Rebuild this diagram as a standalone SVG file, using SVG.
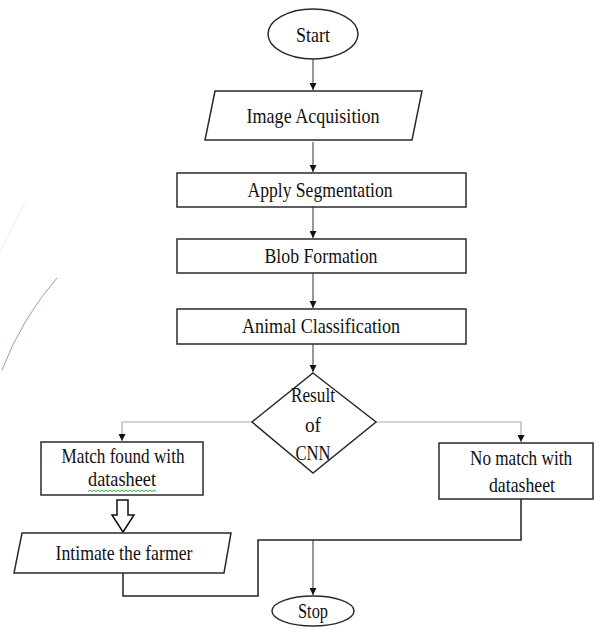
<svg xmlns="http://www.w3.org/2000/svg" width="594" height="629" viewBox="0 0 594 629">
<style>
.shape{fill:#fff;stroke:#2a2a2a;stroke-width:1.5}
.t{font-family:"Liberation Serif","Times New Roman",serif;font-size:22px;fill:#111;text-anchor:middle}
.c{fill:none;stroke:#333;stroke-width:1}
.cl{fill:none;stroke:#aaa;stroke-width:1.2}
.cd{fill:none;stroke:#222;stroke-width:1.5}
</style>
<defs>
<marker id="ah" viewBox="0 0 8 8" refX="8" refY="4" markerWidth="7" markerHeight="7" markerUnits="userSpaceOnUse" orient="auto">
<path d="M0,0 L8,4 L0,8 z" fill="#111"/>
</marker>
</defs>
<rect width="594" height="629" fill="#fff"/>
<path d="M27,200 Q14,224 0,252" fill="none" stroke="#eceeed" stroke-width="1"/>
<path d="M57,278 Q22,318 2,370" fill="none" stroke="#5f7d6d" stroke-width="1" opacity="0.7"/>
<g id="connectors">
<path class="c" d="M313,59 V90" marker-end="url(#ah)"/>
<path class="c" d="M313,142 V172" marker-end="url(#ah)"/>
<path class="c" d="M313,207 V238" marker-end="url(#ah)"/>
<path class="c" d="M313,273 V308" marker-end="url(#ah)"/>
<path class="c" d="M313,344 V372" marker-end="url(#ah)"/>
<path class="cl" d="M252,422 H122 V441" marker-end="url(#ah)"/>
<path class="cl" d="M376,422 H521 V442" marker-end="url(#ah)"/>
<path d="M117,500 H128 V515 H134 L123,532 L112,515 H117 Z" fill="#fff" stroke="#111" stroke-width="1.5"/>
<path class="cd" d="M123,573 V596 H258 V540 H313"/>
<path class="cd" d="M521,499 V540 H313"/>
<path class="c" d="M313,540 V595" marker-end="url(#ah)"/>
</g>
<g id="start">
<ellipse class="shape" cx="313" cy="34" rx="45" ry="25"/>
<text class="t" x="313" y="42" textLength="34" lengthAdjust="spacingAndGlyphs">Start</text>
</g>
<g id="image-acquisition">
<polygon class="shape" points="215,91 422,91 412,140 205,140"/>
<text class="t" x="313" y="123" textLength="133" lengthAdjust="spacingAndGlyphs">Image Acquisition</text>
</g>
<g id="apply-segmentation">
<rect class="shape" x="177" y="173" width="289" height="34"/>
<text class="t" x="320" y="197" textLength="145" lengthAdjust="spacingAndGlyphs">Apply Segmentation</text>
</g>
<g id="blob-formation">
<rect class="shape" x="177" y="239" width="289" height="34"/>
<text class="t" x="321" y="263" textLength="113" lengthAdjust="spacingAndGlyphs">Blob Formation</text>
</g>
<g id="animal-classification">
<rect class="shape" x="177" y="309" width="289" height="35"/>
<text class="t" x="321" y="333" textLength="158" lengthAdjust="spacingAndGlyphs">Animal Classification</text>
</g>
<g id="result-cnn">
<polygon class="shape" points="313,373 376,422 313,473 252,422"/>
<text class="t" x="313" y="402" textLength="44" lengthAdjust="spacingAndGlyphs">Result</text>
<text class="t" x="313" y="432" textLength="16" lengthAdjust="spacingAndGlyphs">of</text>
<text class="t" x="313" y="460" textLength="35" lengthAdjust="spacingAndGlyphs">CNN</text>
</g>
<g id="match-found">
<rect class="shape" x="41" y="442" width="162" height="53"/>
<text class="t" x="123" y="463" textLength="123" lengthAdjust="spacingAndGlyphs">Match found with</text>
<text class="t" x="122" y="486" textLength="68" lengthAdjust="spacingAndGlyphs">datasheet</text>
<path d="M88,491.5 l2,-1.5 l2,1.5 l2,-1.5 l2,1.5 l2,-1.5 l2,1.5 l2,-1.5 l2,1.5 l2,-1.5 l2,1.5 l2,-1.5 l2,1.5 l2,-1.5 l2,1.5 l2,-1.5 l2,1.5 l2,-1.5 l2,1.5 l2,-1.5 l2,1.5 l2,-1.5 l2,1.5 l2,-1.5 l2,1.5 l2,-1.5 l2,1.5 l2,-1.5 l2,1.5 l2,-1.5 l2,1.5 l2,-1.5 l2,1.5 l2,-1.5 l2,1.5" fill="none" stroke="#3aa23a" stroke-width="1"/>
</g>
<g id="no-match">
<rect class="shape" x="439" y="443" width="154" height="56"/>
<text class="t" x="521" y="465" textLength="102" lengthAdjust="spacingAndGlyphs">No match with</text>
<text class="t" x="522" y="492" textLength="66" lengthAdjust="spacingAndGlyphs">datasheet</text>
</g>
<g id="intimate-farmer">
<polygon class="shape" points="22,533 231,533 224,573 14,573"/>
<text class="t" x="124" y="560" textLength="137" lengthAdjust="spacingAndGlyphs">Intimate the farmer</text>
</g>
<g id="stop">
<ellipse class="shape" cx="313" cy="611" rx="41" ry="15"/>
<text class="t" x="313" y="618" textLength="30" lengthAdjust="spacingAndGlyphs">Stop</text>
</g>
</svg>
